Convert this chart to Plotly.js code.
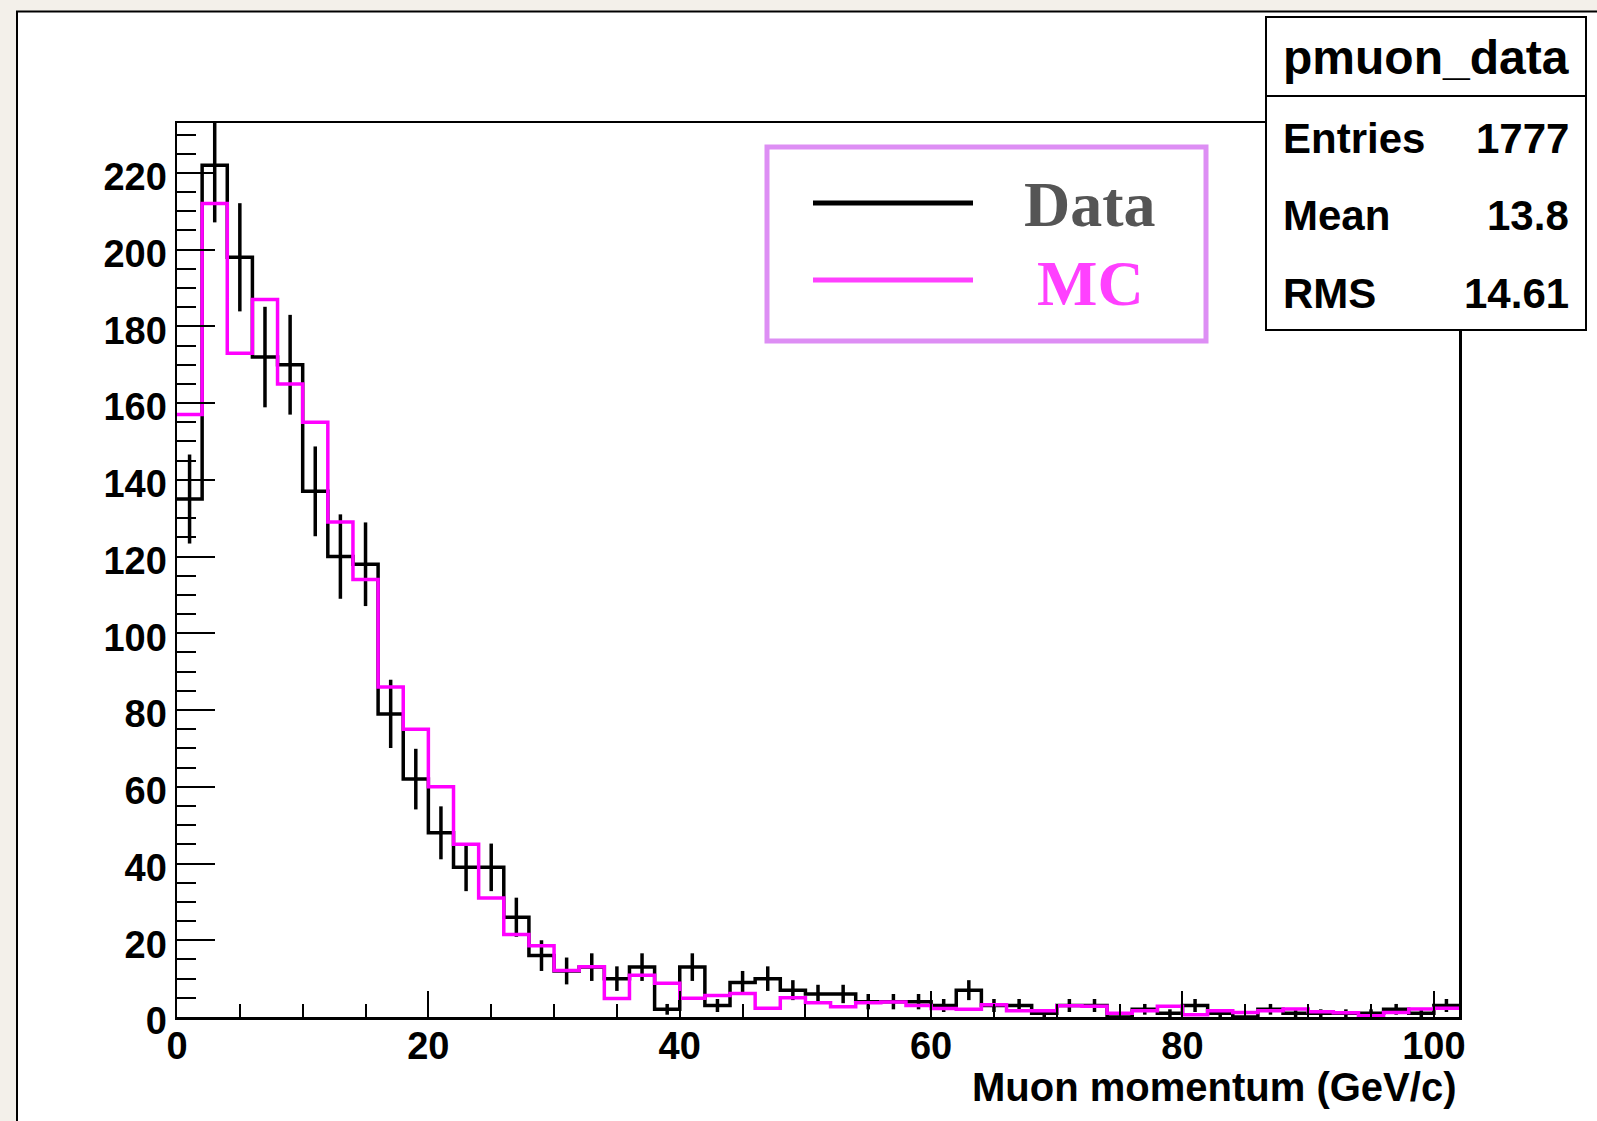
<!DOCTYPE html>
<html>
<head>
<meta charset="utf-8">
<script src="https://cdn.plot.ly/plotly-3.0.1.min.js"></script>
<style>
  html, body { margin: 0; padding: 0; background: #f3f0ea; }
  #chart { width: 1597px; height: 1121px; }
</style>
</head>
<body>
<div id="chart"></div>
<script>
// ---- Data ----
// lower edges of the 51 bins (GeV/c), bin width 2
const binLow = [0,2,4,6,8,10,12,14,16,18,20,22,24,26,28,30,32,34,36,38,40,
                42,44,46,48,50,52,54,56,58,60,62,64,66,68,70,72,74,76,78,80,
                82,84,86,88,90,92,94,96,98,100];
const binWidth = 2;

// Data histogram (counts)
const dataCounts = [135,222,198,172,170,137,120,118,79,62,48,39,39,26,16,12,13,10,13,2,13,
                    3,9,10,7,6,6,4,4,4,3,7,3,3,1,3,3,0,2,1,3,
                    1,0,2,1,1,1,1,2,1,3];
// Data error bars (half-length)
const dataErrors = [11.6,14.9,14.1,13.1,13.0,11.7,11.0,10.9,8.9,7.9,6.9,6.2,6.2,5.1,4.0,3.5,3.6,3.2,3.6,1.4,3.6,
                    1.7,3.0,3.2,2.6,2.4,2.4,2.0,2.0,2.0,1.7,2.6,1.7,1.7,1.0,1.7,1.7,0,1.4,1.0,1.7,
                    1.0,0,1.4,1.0,1.0,1.0,1.0,1.4,1.0,1.7];
// MC histogram (normalised)
const mcCounts = [157,212,173,187,165,155,129,114,86,75,60,45,31,21.5,18.6,12.1,13.1,4.8,10.9,8.8,4.9,
                  5.6,6.1,2.3,5.0,3.7,2.7,3.7,3.9,3.0,2.2,2.0,3.2,1.6,1.6,2.9,2.8,1.0,1.6,2.8,0.6,
                  1.6,1.2,1.6,2.1,1.4,1.1,0.3,1.2,2.1,2.3];

const statsTitle = "pmuon_data";
const statsLabels = ["Entries", "Mean", "RMS"];
const statsValues = ["1777", "13.8", "14.61"];
const legendLabels = ["Data", "MC"];
const xTitle = "Muon momentum (GeV/c)";

// ---- build step arrays ----
function stepX() { const e = binLow.slice(); e.push(binLow[binLow.length-1] + binWidth); return e; }
function stepY(v) { const y = v.slice(); y.push(v[v.length-1]); return y; }
const centers = binLow.map(b => b + binWidth/2);

// ---- geometry helpers (pixel -> paper) ----
const W = 1597, H = 1121;
const M = {l: 177, r: 138, t: 123, b: 104};
const PW = W - M.l - M.r, PH = H - M.t - M.b;
const px = x => (x - M.l) / PW;
const py = y => (H - M.b - y) / PH;

const traces = [
  {
    type: 'scatter', mode: 'lines', x: stepX(), y: stepY(dataCounts),
    line: {shape: 'hv', color: 'black', width: 3.5}, hoverinfo: 'skip', name: 'Data'
  },
  {
    type: 'scatter', mode: 'markers', x: centers, y: dataCounts,
    marker: {size: 1, color: 'rgba(0,0,0,0)'},
    error_y: {type: 'data', array: dataErrors, visible: true, color: 'black', thickness: 3.5, width: 0},
    hoverinfo: 'skip', name: 'Data errors'
  },
  {
    type: 'scatter', mode: 'lines', x: stepX(), y: stepY(mcCounts),
    line: {shape: 'hv', color: '#ff00ff', width: 3.5}, hoverinfo: 'skip', name: 'MC'
  }
];

const tickFont = {family: 'Liberation Sans, Arial, sans-serif', size: 38, color: 'black', weight: 700};

const shapes = [
  // white pad with black frame
  {type: 'rect', xref: 'paper', yref: 'paper', x0: px(17), x1: px(1700), y0: py(1200), y1: py(11.5),
   fillcolor: 'white', line: {color: 'black', width: 2}, layer: 'below'},
  // legend box
  {type: 'rect', xref: 'paper', yref: 'paper', x0: px(767), x1: px(1206), y0: py(341), y1: py(147),
   fillcolor: 'rgba(255,255,255,0)', line: {color: '#dd8ef4', width: 5}, layer: 'above'},
  // legend samples
  {type: 'line', xref: 'paper', yref: 'paper', x0: px(813), x1: px(973), y0: py(203), y1: py(203),
   line: {color: 'black', width: 5}, layer: 'above'},
  {type: 'line', xref: 'paper', yref: 'paper', x0: px(813), x1: px(973), y0: py(280), y1: py(280),
   line: {color: '#ff40ff', width: 5}, layer: 'above'},
  // stats box
  {type: 'rect', xref: 'paper', yref: 'paper', x0: px(1266), x1: px(1586), y0: py(330), y1: py(17),
   fillcolor: 'white', line: {color: 'black', width: 2}, layer: 'above'},
  {type: 'line', xref: 'paper', yref: 'paper', x0: px(1266), x1: px(1586), y0: py(96), y1: py(96),
   line: {color: 'black', width: 2}, layer: 'above'}
];

const statFont = {family: 'Liberation Sans, Arial, sans-serif', size: 42, color: 'black', weight: 700};
const rowY = [138, 215, 293];
const annotations = [
  {xref: 'paper', yref: 'paper', x: px(1426), y: py(57), text: statsTitle, showarrow: false,
   xanchor: 'center', yanchor: 'middle', font: {family: 'Liberation Sans, Arial, sans-serif', size: 48, color: 'black', weight: 700}},
  {xref: 'paper', yref: 'paper', x: px(1090), y: py(204), text: legendLabels[0], showarrow: false,
   xanchor: 'center', yanchor: 'middle', font: {family: 'Liberation Serif, Times New Roman, serif', size: 64, color: '#555555', weight: 700}},
  {xref: 'paper', yref: 'paper', x: px(1090), y: py(283), text: legendLabels[1], showarrow: false,
   xanchor: 'center', yanchor: 'middle', font: {family: 'Liberation Serif, Times New Roman, serif', size: 64, color: '#ff40ff', weight: 700}},
  {xref: 'paper', yref: 'paper', x: px(1458), y: py(1087), text: xTitle, showarrow: false,
   xanchor: 'right', yanchor: 'middle', font: {family: 'Liberation Sans, Arial, sans-serif', size: 40, color: 'black', weight: 700}}
];
statsLabels.forEach((lab, i) => {
  annotations.push({xref: 'paper', yref: 'paper', x: px(1281), y: py(rowY[i]), text: lab, showarrow: false,
    xanchor: 'left', yanchor: 'middle', font: statFont});
  annotations.push({xref: 'paper', yref: 'paper', x: px(1571), y: py(rowY[i]), text: statsValues[i], showarrow: false,
    xanchor: 'right', yanchor: 'middle', font: statFont});
});

const layout = {
  width: W, height: H,
  margin: {l: M.l, r: M.r, t: M.t, b: M.b, pad: 0},
  paper_bgcolor: '#f3f0ea',
  plot_bgcolor: 'white',
  showlegend: false,
  xaxis: {
    range: [0, 102], showline: true, mirror: true, linecolor: 'black', linewidth: 2.5,
    ticks: 'inside', ticklen: 26, tickwidth: 2, tickcolor: 'black', tick0: 0, dtick: 20,
    minor: {ticks: 'inside', dtick: 5, ticklen: 13, tickwidth: 2, tickcolor: 'black', showgrid: false},
    showgrid: false, zeroline: false, tickfont: tickFont, fixedrange: true,
    ticklabelstandoff: -6
  },
  yaxis: {
    range: [0, 233], showline: true, mirror: true, linecolor: 'black', linewidth: 2.5,
    ticks: 'inside', ticklen: 38, tickwidth: 2, tickcolor: 'black', tick0: 0, dtick: 20,
    minor: {ticks: 'inside', dtick: 5, ticklen: 19, tickwidth: 2, tickcolor: 'black', showgrid: false},
    showgrid: false, zeroline: false, tickfont: tickFont, fixedrange: true,
    ticklabelshift: 4
  },
  shapes: shapes,
  annotations: annotations
};

Plotly.newPlot('chart', traces, layout, {displayModeBar: false, staticPlot: true});
</script>
</body>
</html>
